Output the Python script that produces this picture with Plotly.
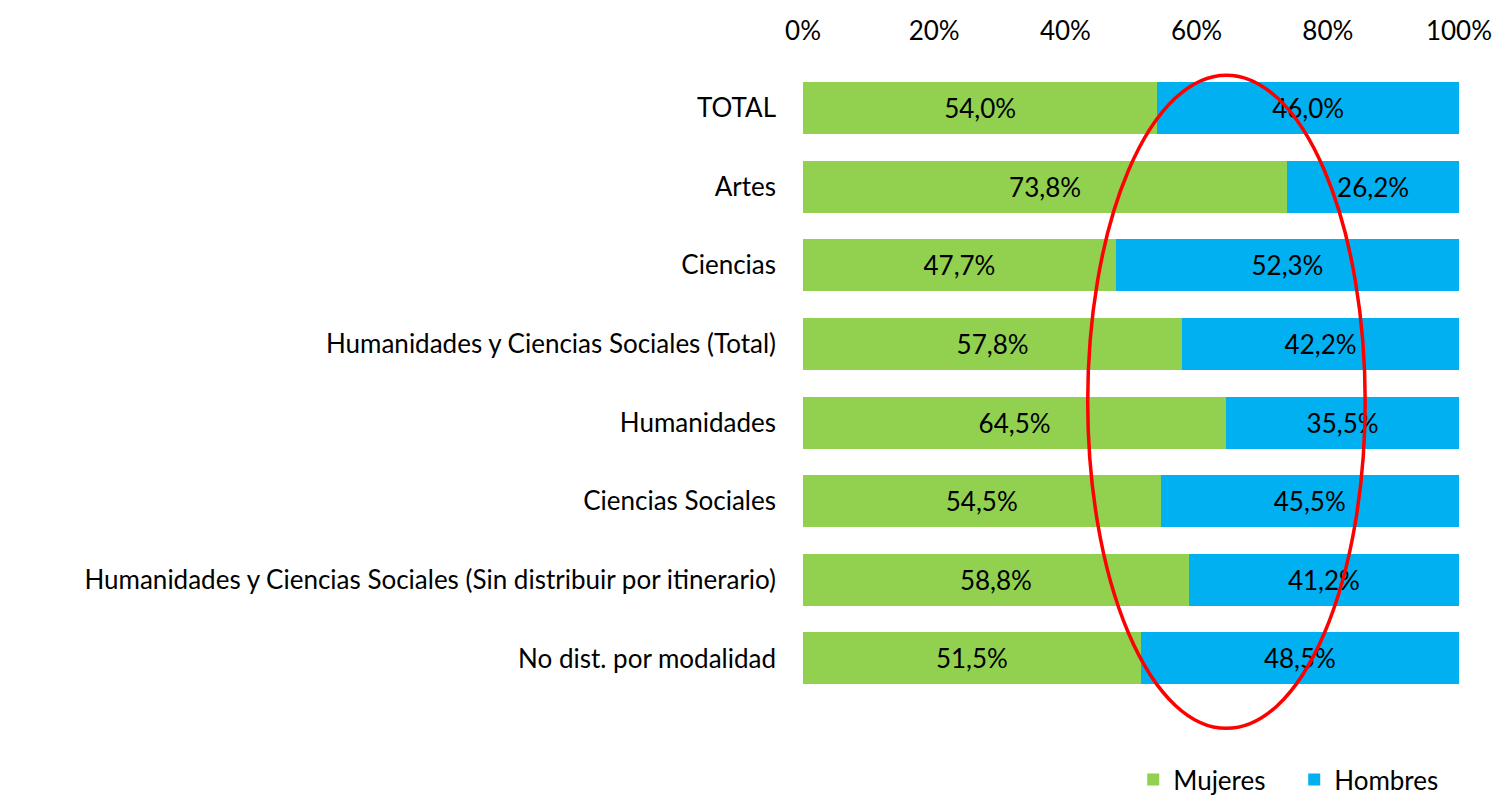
import plotly.graph_objects as go

categories = [
    "TOTAL",
    "Artes",
    "Ciencias",
    "Humanidades y Ciencias Sociales (Total)",
    "Humanidades",
    "Ciencias Sociales",
    "Humanidades y Ciencias Sociales (Sin distribuir por itinerario)",
    "No dist. por modalidad",
]
mujeres = [54.0, 73.8, 47.7, 57.8, 64.5, 54.5, 58.8, 51.5]
hombres = [46.0, 26.2, 52.3, 42.2, 35.5, 45.5, 41.2, 48.5]
tick_vals = [0, 20, 40, 60, 80, 100]
tick_text = ["0%", "20%", "40%", "60%", "80%", "100%"]

FONT = "Lato"
FS = 26

fig = go.Figure()
fig.add_trace(go.Bar(
    y=categories, x=mujeres, name="Mujeres", orientation="h",
    marker=dict(color="#92D050", line=dict(width=0)),
    texttemplate="%{x:.1f}%", textposition="inside", insidetextanchor="middle",
    textangle=0, constraintext="none",
    insidetextfont=dict(color="black", size=FS, family=FONT),
))
fig.add_trace(go.Bar(
    y=categories, x=hombres, name="Hombres", orientation="h",
    marker=dict(color="#00B0F0", line=dict(width=0)),
    texttemplate="%{x:.1f}%", textposition="inside", insidetextanchor="middle",
    textangle=0, constraintext="none",
    insidetextfont=dict(color="black", size=FS, family=FONT),
))

# red ellipse highlighting the 45%-85% zone
fig.add_shape(type="circle", xref="x", yref="y",
              x0=43.4, x1=85.7, y0=-0.42, y1=7.89,
              line=dict(color="#FF0000", width=3.5), layer="above")

fig.update_layout(
    barmode="stack", bargap=0.34,
    width=1498, height=795,
    margin=dict(l=795, r=47, t=53, b=66, autoexpand=False),
    paper_bgcolor="white", plot_bgcolor="white",
    separators=",.",
    font=dict(family=FONT, size=FS, color="black"),
    xaxis=dict(range=[0, 100], tickvals=tick_vals, ticktext=tick_text, side="top",
               showgrid=False, zeroline=False, showline=False, automargin=False,
               tickfont=dict(size=FS, family=FONT), ticklabelstandoff=15),
    yaxis=dict(range=[8.0, -0.6], showgrid=False, zeroline=False, showline=False,
               automargin=False,
               ticks="", tickfont=dict(size=FS, family=FONT), ticklabelstandoff=26),
    legend=dict(orientation="h", x=0.5034, xanchor="left",
                yref="container", y=0.0, yanchor="bottom",
                font=dict(size=FS, family=FONT), traceorder="normal",
                itemwidth=30, entrywidth=116, entrywidthmode="pixels"),
    showlegend=True,
)

fig.write_html("out.html")
